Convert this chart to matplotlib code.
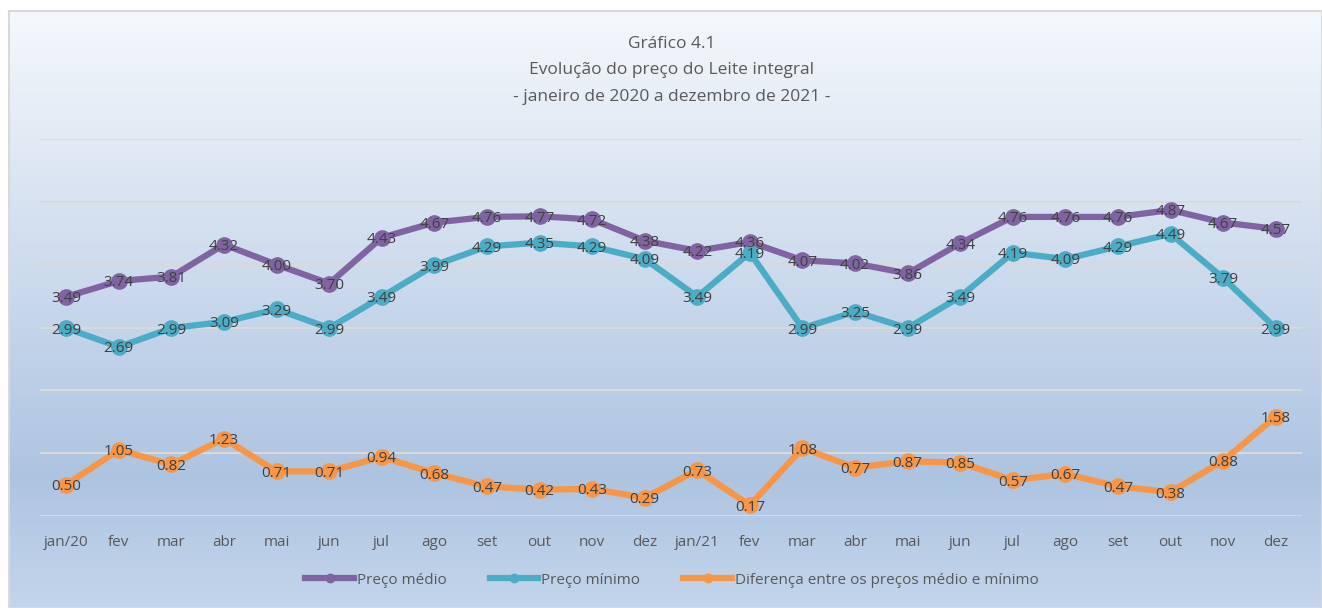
import numpy as np
import matplotlib
matplotlib.use("Agg")
from matplotlib import pyplot as plt
from matplotlib.colors import LinearSegmentedColormap

plt.rcParams['font.family'] = ['Open Sans', 'DejaVu Sans']

meses = ["jan/20", "fev", "mar", "abr", "mai", "jun", "jul", "ago", "set", "out", "nov", "dez",
         "jan/21", "fev", "mar", "abr", "mai", "jun", "jul", "ago", "set", "out", "nov", "dez"]
preco_medio = [3.49, 3.74, 3.81, 4.32, 4.00, 3.70, 4.43, 4.67, 4.76, 4.77, 4.72, 4.38,
               4.22, 4.36, 4.07, 4.02, 3.86, 4.34, 4.76, 4.76, 4.76, 4.87, 4.67, 4.57]
preco_minimo = [2.99, 2.69, 2.99, 3.09, 3.29, 2.99, 3.49, 3.99, 4.29, 4.35, 4.29, 4.09,
                3.49, 4.19, 2.99, 3.25, 2.99, 3.49, 4.19, 4.09, 4.29, 4.49, 3.79, 2.99]
diferenca = [0.50, 1.05, 0.82, 1.23, 0.71, 0.71, 0.94, 0.68, 0.47, 0.42, 0.43, 0.29,
             0.73, 0.17, 1.08, 0.77, 0.87, 0.85, 0.57, 0.67, 0.47, 0.38, 0.88, 1.58]

W, H = 1322, 608
fig = plt.figure(figsize=(W / 100, H / 100), dpi=100)
fig.patch.set_facecolor("white")

# fundo em degradê da área do gráfico
bg = fig.add_axes([9 / W, 0, 1 - 9 / W, 1 - 11 / H])
cmap = LinearSegmentedColormap.from_list("bg", [(0, "#f5f8fc"), (0.78, "#adc4e1"), (1, "#c3d5eb")])
grad = np.linspace(0, 1, 256).reshape(-1, 1)
bg.imshow(grad, aspect="auto", cmap=cmap, extent=[0, 1, 0, 1], origin="upper")
bg.set_xticks([])
bg.set_yticks([])
for s in bg.spines.values():
    s.set_color("#d9d9d9")
    s.set_linewidth(1.5)

ax = fig.add_axes([40 / W, 1 - 516 / H, (1302 - 40) / W, (516 - 139) / H])
ax.set_facecolor("none")
x = np.arange(len(meses))

series = [
    (preco_medio, "#8064a2", "Preço médio"),
    (preco_minimo, "#4bacc6", "Preço mínimo"),
    (diferenca, "#f79646", "Diferença entre os preços médio e mínimo"),
]
for vals, cor, nome in series:
    ax.plot(x, vals, color=cor, lw=4.5, marker="o", ms=11, label=nome, solid_joinstyle="round")
    for xi, v in zip(x, vals):
        ax.text(xi, v - 0.03, f"{v:.2f}", ha="center", va="center", fontsize=11, color="#404040")

ax.set_xlim(-0.5, len(meses) - 0.5)
ax.set_ylim(0, 6)
ax.set_yticks(np.arange(0, 7, 1))
ax.yaxis.grid(True, color="#d9d9d9", lw=1.5)
ax.set_axisbelow(True)
ax.tick_params(axis="y", left=False, labelleft=False)
ax.tick_params(axis="x", length=0, pad=14, labelsize=11, labelcolor="#595959")
ax.set_xticks(x)
ax.set_xticklabels(meses)
for s in ax.spines.values():
    s.set_visible(False)

for yy, txt in [(44, "Gráfico 4.1"), (70, "Evolução do preço do Leite integral"),
                (97, "- janeiro de 2020 a dezembro de 2021 -")]:
    fig.text(672 / W, 1 - yy / H, txt, ha="center", va="center", fontsize=12.5, color="#595959")

leg = fig.legend(loc="center", bbox_to_anchor=(672 / W, 1 - 580 / H), ncol=3, frameon=False,
                 fontsize=11, handlelength=3.2, columnspacing=2.8, handletextpad=0.2, markerscale=0.55)
for t in leg.get_texts():
    t.set_color("#595959")

fig.savefig("out.png", dpi=100)
